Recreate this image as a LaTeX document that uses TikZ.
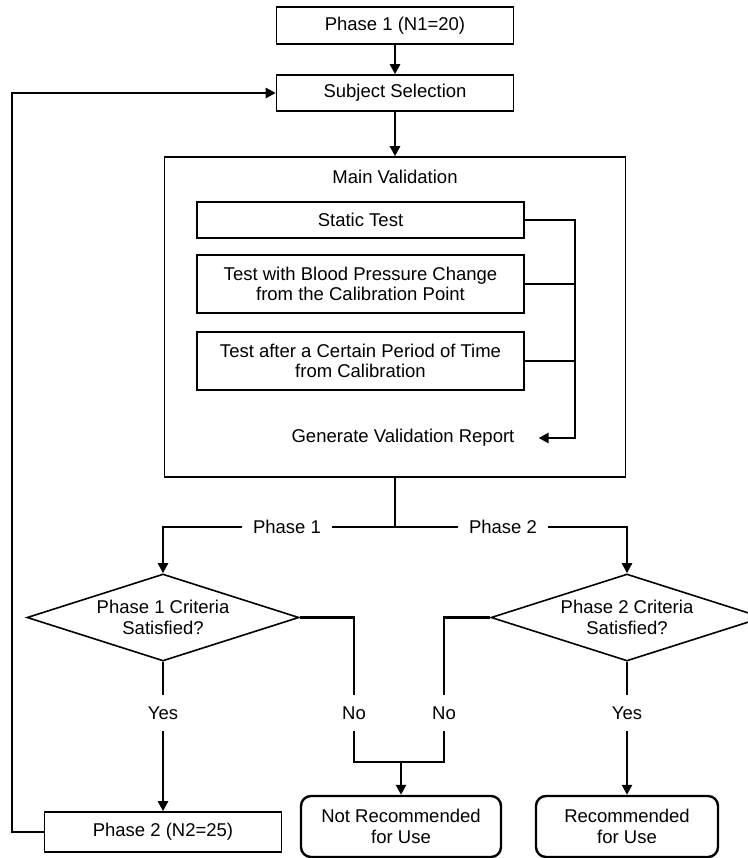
\documentclass[tikz,border=0pt]{standalone}
\usepackage{fontspec}
\setmainfont{Liberation Sans}
\usetikzlibrary{shapes.geometric,arrows.meta}
\begin{document}
\begin{tikzpicture}[x=1pt,y=-1pt,
  font=\fontsize{18.5}{20.5}\selectfont,
  box/.style={draw,line width=1.6pt,minimum width=237pt,inner sep=0pt,align=center},
  rbox/.style={draw,line width=2.4pt,rounded corners=10pt,minimum height=61pt,inner sep=0pt,align=center},
  dia/.style={draw,diamond,line width=1.6pt,aspect=3.126,inner sep=0pt,minimum width=272pt,minimum height=87pt,align=center},
  lab/.style={inner xsep=11pt,inner ysep=11.4pt,text height=13.2pt,text depth=0pt},
  thk/.style={line width=2.8pt},
  thinln/.style={line width=1.3pt},
  arr/.style={line width=2.8pt,-{Triangle[length=10pt,width=10pt]}}
]
\useasboundingbox (0,0) rectangle (747,858);

% top boxes
\node[box,minimum height=37pt] (p1) at (395,25.5) {Phase 1 (N1=20)};
\node[box,minimum height=36pt] (ss) at (395,93) {Subject Selection};

% main validation
\node[draw,line width=1.6pt,minimum width=461pt,minimum height=320pt] (mv) at (395,317) {};
\node (mvt) at (395,177) {Main Validation};
\node[box,minimum width=327pt,minimum height=36pt] (st) at (360.5,220) {Static Test};
\node[box,minimum width=327pt,minimum height=58pt] (bp) at (360.5,284) {Test with Blood Pressure Change\\from the Calibration Point};
\node[box,minimum width=327pt,minimum height=58pt] (af) at (360.5,361) {Test after a Certain Period of Time\\from Calibration};
\node[inner xsep=24pt] (gvr) at (403,438) {Generate Validation Report};
\coordinate (bb) at (575,438);

% branch labels
\node[lab] (ph1) at (287,527) {Phase 1};
\node[lab] (ph2) at (503,527) {Phase 2};

% decisions
\node[dia] (d1) at (163,617.5) {Phase 1 Criteria\\Satisfied?};
\node[dia] (d2) at (627,617.5) {Phase 2 Criteria\\Satisfied?};

\node[lab] (y1) at (163,713) {Yes};
\node[lab] (n1) at (354,713) {No};
\node[lab] (n2) at (444,713) {No};
\node[lab] (y2) at (627,713) {Yes};

% bottom boxes
\node[box,minimum height=40pt] (p2) at (163,832) {Phase 2 (N2=25)};
\node[rbox,minimum width=200pt] (nr) at (401,826.5) {Not Recommended\\for Use};
\node[rbox,minimum width=182pt] (rec) at (627,826.5) {Recommended\\for Use};

\coordinate (j) at (401,762);
\coordinate (lp) at (12,93);

% connectors
\draw[arr] (p1.south) -- (ss.north);
\draw[arr] (ss.south) -- (mv.north);
\draw[arr] (st.east) -| (bb) -- (gvr.east);
\draw[thk] (bp.east) -- (bp.east -| bb);
\draw[thk] (af.east) -- (af.east -| bb);

\draw[thinln] (mv.south) -- (mv.south |- ph1.center);
\draw[thinln] (ph1.east) -- (ph2.west);
\draw[arr] (ph1.west) -| (d1.north);
\draw[arr] (ph2.east) -| (d2.north);

\draw[thk] (d1.south) -- (y1.north);
\draw[arr] (y1.south) -- (p2.north);
\draw[thk] (d1.east) -| (n1.north);
\draw[thk] (d2.west) -| (n2.north);
\draw[thk] (n1.south) |- (j) -| (n2.south);
\draw[arr] (j) -- (nr.north);
\draw[thk] (d2.south) -- (y2.north);
\draw[arr] (y2.south) -- (rec.north);

\draw[arr] (p2.west) -| (lp) -- (ss.west);
\end{tikzpicture}
\end{document}
